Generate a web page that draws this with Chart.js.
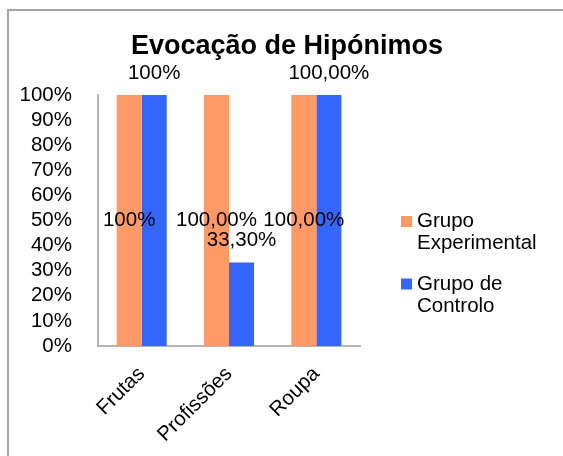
<!DOCTYPE html>
<html>
<head>
<meta charset="utf-8">
<script src="https://cdn.jsdelivr.net/npm/chart.js@4.4.1/dist/chart.umd.min.js"></script>
<style>
    html, body { margin: 0; padding: 0; background: #fff; overflow: hidden; }
    .frame { position: absolute; left: 7px; top: 9px; width: 700px; height: 600px; border: 2px solid #a6a6a6; }
    canvas { position: absolute; left: 0; top: 0; }
</style>
</head>
<body>
<div class="frame"></div>
<canvas id="hiponimosChart" width="563" height="456"></canvas>
<script>
const chartTitle = 'Evocação de Hipónimos';
const categories = ['Frutas', 'Profissões', 'Roupa'];
const seriesNames = [['Grupo', 'Experimental'], ['Grupo de', 'Controlo']];
const seriesColors = ['#ff9966', '#3366ff'];
const experimental = [100, 100, 100];
const controlo = [100, 33.3, 100];
const experimentalLabels = ['100%', '100,00%', '100,00%'];
const controloLabels = ['100%', '33,30%', '100,00%'];
const yTickLabels = ['0%', '10%', '20%', '30%', '40%', '50%', '60%', '70%', '80%', '90%', '100%'];

const FONT = '"Liberation Sans", Arial, sans-serif';

// value labels, title and legend are drawn by hand (no datalabels plugin here)
const extrasPlugin = {
    id: 'extras',
    afterDatasetsDraw(chart) {
        const ctx = chart.ctx;
        ctx.save();
        ctx.fillStyle = '#000';
        ctx.font = '20.5px ' + FONT;
        ctx.textAlign = 'center';
        ctx.textBaseline = 'middle';
        chart.getDatasetMeta(0).data.forEach((bar, i) => {
            ctx.fillText(experimentalLabels[i], bar.x, (bar.y + bar.base) / 2);
        });
        chart.getDatasetMeta(1).data.forEach((bar, i) => {
            ctx.fillText(controloLabels[i], bar.x, bar.y - 22);
        });

        ctx.font = 'bold 27px ' + FONT;
        ctx.textBaseline = 'alphabetic';
        ctx.fillText(chartTitle, 287, 54);

        // legend
        const area = chart.chartArea;
        ctx.font = '20.5px ' + FONT;
        ctx.textAlign = 'left';
        ctx.textBaseline = 'middle';
        chart.data.datasets.forEach((ds, i) => {
            const y = area.top + 126.5 + i * 62.5;
            ctx.fillStyle = ds.backgroundColor;
            ctx.fillRect(area.right + 41, y - 5.5, 11, 11);
            ctx.fillStyle = '#000';
            ds.label.forEach((line, j) => {
                ctx.fillText(line, area.right + 57, y + j * 22);
            });
        });
        ctx.restore();
    }
};

new Chart(document.getElementById('hiponimosChart'), {
    type: 'bar',
    data: {
        labels: categories,
        datasets: [{
            label: seriesNames[0],
            data: experimental,
            backgroundColor: seriesColors[0]
        }, {
            label: seriesNames[1],
            data: controlo,
            backgroundColor: seriesColors[1]
        }]
    },
    options: {
        responsive: false,
        animation: false,
        layout: { padding: { top: 95, right: 203, left: 0, bottom: 0 } },
        datasets: { bar: { categoryPercentage: 0.573, barPercentage: 1 } },
        plugins: {
            legend: { display: false },
            title: { display: false },
            tooltip: { enabled: false }
        },
        scales: {
            x: {
                grid: { display: false },
                border: { display: true, color: '#b4b4b4', width: 2 },
                ticks: {
                    color: '#000',
                    font: { family: FONT, size: 20.5 },
                    minRotation: 45,
                    maxRotation: 45,
                    padding: 8
                },
                afterFit(scale) { scale.height = 110; }
            },
            y: {
                min: 0,
                max: 100,
                grid: { display: false },
                border: { display: true, color: '#b4b4b4', width: 2 },
                ticks: {
                    stepSize: 10,
                    autoSkip: false,
                    color: '#000',
                    font: { family: FONT, size: 20.5 },
                    padding: 18,
                    callback: (value, index) => yTickLabels[index]
                },
                afterFit(scale) { scale.width = 98; }
            }
        }
    },
    plugins: [extrasPlugin]
});
</script>
</body>
</html>
